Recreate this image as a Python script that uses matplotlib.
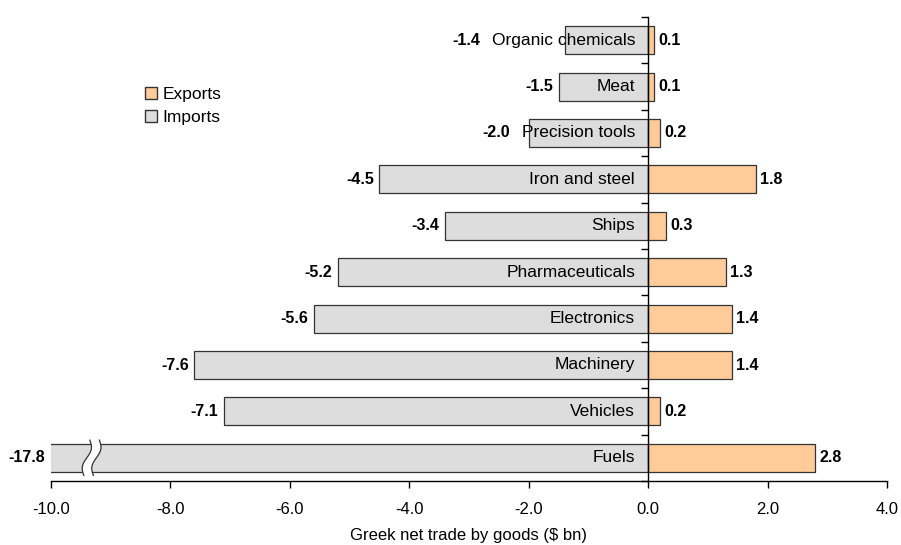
import numpy as np
import matplotlib.pyplot as plt
from matplotlib.patches import Patch, Polygon

plt.rcParams['font.family'] = ['Liberation Sans', 'DejaVu Sans']

goods = ['Organic chemicals', 'Meat', 'Precision tools', 'Iron and steel', 'Ships',
         'Pharmaceuticals', 'Electronics', 'Machinery', 'Vehicles', 'Fuels']
imports = [-1.4, -1.5, -2.0, -4.5, -3.4, -5.2, -5.6, -7.6, -7.1, -17.8]
exports = [0.1, 0.1, 0.2, 1.8, 0.3, 1.3, 1.4, 1.4, 0.2, 2.8]

xmin, xmax = -10, 4
exp_color = '#FFCC99'
imp_color = '#DDDDDD'
edge = '#333333'

fig = plt.figure(figsize=(9.01, 5.45), dpi=100)
ax = fig.add_axes([51 / 901, 64 / 545, 836 / 901, 464 / 545])

n = len(goods)
y = np.arange(n)[::-1]  # first item on top
bh = 0.6

ax.barh(y, imports, height=bh, color=imp_color, edgecolor=edge, linewidth=0.9)
ax.barh(y, exports, height=bh, color=exp_color, edgecolor=edge, linewidth=0.9)

ax.set_xlim(xmin, xmax)
ax.set_ylim(-0.5, n - 0.5)

# spines: bottom axis plus a vertical axis at zero
for s in ['top', 'right']:
    ax.spines[s].set_visible(False)
ax.spines['left'].set_position(('data', 0))
ax.spines['left'].set_zorder(5)
ax.spines['bottom'].set_linewidth(1.0)
ax.spines['left'].set_linewidth(1.0)

ax.set_xticks(np.arange(xmin, xmax + 1, 2))
ax.set_xticklabels([f'{v:.1f}' for v in np.arange(xmin, xmax + 1, 2)])
ax.tick_params(axis='x', direction='out', length=5, width=1.0, pad=10, labelsize=12)
ax.set_yticks(np.arange(-0.5, n, 1.0))
ax.set_yticklabels([])
ax.tick_params(axis='y', direction='out', length=5, width=1.0)

ax.set_xlabel('Greek net trade by goods ($ bn)', fontsize=12, labelpad=8)

fig.canvas.draw()
renderer = fig.canvas.get_renderer()
inv = ax.transData.inverted()

for yi, name, imp, exp in zip(y, goods, imports, exports):
    t = ax.text(-0.22, yi, name, ha='right', va='center', fontsize=12.5, zorder=4)
    bb = t.get_window_extent(renderer)
    text_left = inv.transform((bb.x0, 0))[0]
    bar_left = max(imp, xmin)
    anchor = min(bar_left, text_left - 0.1) if imp > xmin else xmin
    ax.annotate(f'{imp:.1f}', (anchor, yi), xytext=(-4, 0), textcoords='offset points',
                ha='right', va='center', fontsize=11.5, fontweight='bold', annotation_clip=False)
    ax.annotate(f'{exp:.1f}', (exp, yi), xytext=(3, 0), textcoords='offset points',
                ha='left', va='center', fontsize=11.5, fontweight='bold', annotation_clip=False)

# break mark on the clipped fuels bar
yb = y[goods.index('Fuels')]
tt = np.linspace(0, 1, 40)
yy = yb - bh / 2 - 0.08 + tt * (bh + 0.16)
wig = 0.05 * np.sin(2 * np.pi * (tt - 0.5)) + 0.10 * (tt - 0.5)
xl = -9.40 + wig
xr = -9.24 + wig
poly = np.column_stack([np.r_[xl, xr[::-1]], np.r_[yy, yy[::-1]]])
ax.add_patch(Polygon(poly, closed=True, facecolor='white', edgecolor='none', zorder=3))
ax.plot(xl, yy, color=edge, lw=0.9, zorder=3.5)
ax.plot(xr, yy, color=edge, lw=0.9, zorder=3.5)

handles = [Patch(facecolor=exp_color, edgecolor=edge, label='Exports'),
           Patch(facecolor=imp_color, edgecolor=edge, label='Imports')]
fig.legend(handles=handles, loc='upper left', bbox_to_anchor=(138 / 901, 1 - 80 / 545),
           frameon=False, fontsize=12.5, handlelength=0.7, handleheight=0.7,
           handletextpad=0.3, labelspacing=0.45, borderaxespad=0)

fig.savefig('out.png', dpi=100)
